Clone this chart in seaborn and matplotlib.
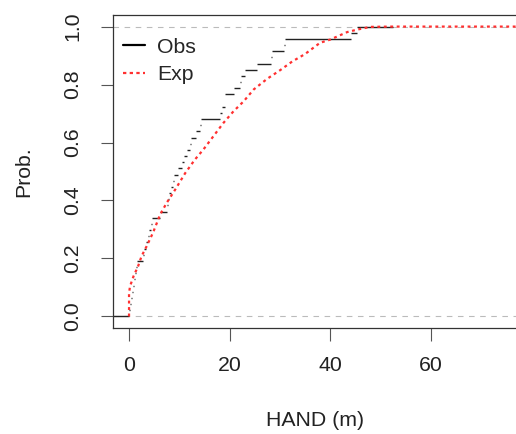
import numpy as np
import matplotlib
matplotlib.use("Agg")
import matplotlib.pyplot as plt
import seaborn as sns
import pandas as pd
from matplotlib.lines import Line2D

# Observed HAND values (knots of the empirical CDF), metres
obs_hand = [0.05, 0.25, 0.4, 0.55, 0.75, 0.95, 1.15, 1.4, 1.65, 2.85,
            3.0, 3.3, 3.7, 4.0, 4.3, 4.65, 6.2, 7.6, 7.8, 8.0,
            8.3, 8.7, 8.9, 9.8, 10.5, 11.0, 11.5, 12.1, 12.3, 13.3,
            14.2, 14.4, 18.1, 18.5, 19.0, 19.1, 20.8, 22.1, 22.2, 23.1,
            25.5, 28.2, 28.4, 30.8, 31.1, 44.2, 45.3]
obs_end = 52.6

# Expected cumulative probability curve
exp_hand = [0, 0, 0.2, 0.9, 1.8, 2.5, 3.5, 4.8, 6.2, 7.5, 9.2, 11.2, 13.1,
            14.8, 16.8, 18.8, 20.8, 22.8, 24.8, 27.5, 30.1, 32.5, 35.0,
            38.0, 40.0, 43.4, 45.5, 48.0, 52.0, 80.0]
exp_prob = [0, 0.08, 0.104, 0.139, 0.173, 0.208, 0.242, 0.29, 0.352, 0.392,
            0.438, 0.495, 0.541, 0.576, 0.622, 0.668, 0.708, 0.742, 0.783,
            0.82, 0.85, 0.88, 0.905, 0.944, 0.955, 0.981, 0.99, 0.999, 1.0, 1.0]

x_ticks = [0, 20, 40, 60]
y_ticks = [0.0, 0.2, 0.4, 0.6, 0.8, 1.0]
y_ticklabels = ["0.0", "0.2", "0.4", "0.6", "0.8", "1.0"]

sns.set_theme(style="white")
plt.rcParams["font.family"] = ["Liberation Sans", "DejaVu Sans"]

FS = 15.3
TXT = "#222222"
RED = "#FF3030"

fig = plt.figure(figsize=(5.16, 4.34), dpi=100)
ax = fig.add_axes([113 / 516, 1 - 328 / 434, 1 - 113 / 516 + 0.002, (328 - 15) / 434])

xlim = (-3.19, 77.2)
ax.set_xlim(*xlim)
ax.set_ylim(-0.04, 1.04)

# reference lines at 0 and 1
ax.axhline(0, color="#BBBBBB", lw=0.8, linestyle=(0, (5, 5)), zorder=1)
ax.axhline(1, color="#BBBBBB", lw=0.8, linestyle=(0, (5, 5)), zorder=1)

# Observed ECDF as horizontal segments
n = len(obs_hand)
levels = np.arange(1, n + 1) / n
starts = [xlim[0]] + list(obs_hand)
ends = list(obs_hand) + [obs_end]
ys = [0.0] + list(levels)
ax.hlines(ys, starts, ends, colors="#222222", lw=1.0, zorder=2)

# Expected curve
df_exp = pd.DataFrame({"HAND": exp_hand, "Prob": exp_prob})
exp_style = (0, (1.3, 1.6))
sns.lineplot(data=df_exp, x="HAND", y="Prob", ax=ax, color=RED,
             lw=1.6, linestyle=exp_style, estimator=None, sort=False,
             zorder=3)

ax.set_xticks(x_ticks)
ax.set_xticklabels([str(v) for v in x_ticks])
ax.set_yticks(y_ticks)
ax.set_yticklabels(y_ticklabels, rotation=90, va="center")

ax.tick_params(axis="both", which="both", direction="out", length=9,
               width=0.8, color="#555555", labelsize=FS, labelcolor=TXT,
               bottom=True, left=True)
ax.tick_params(axis="x", pad=11)
ax.tick_params(axis="y", pad=13)

for side in ["left", "bottom", "top"]:
    ax.spines[side].set_color("#333333")
    ax.spines[side].set_linewidth(0.9)
ax.spines["right"].set_visible(False)

ax.set_xlabel("HAND (m)", fontsize=FS, color=TXT, labelpad=26)
ax.set_ylabel("Prob.", fontsize=FS, color=TXT, labelpad=22)

handles = [Line2D([], [], color="black", lw=1.6),
           Line2D([], [], color=RED, lw=1.6, linestyle=(0, (1.5, 1.5)))]
ax.legend(handles, ["Obs", "Exp"], loc="upper left", frameon=False,
          fontsize=FS, handlelength=1.05, handletextpad=0.55,
          labelspacing=0.42, borderaxespad=0.0, borderpad=0.0,
          bbox_to_anchor=(0.025, 0.928))

fig.savefig("out.png", dpi=100)
